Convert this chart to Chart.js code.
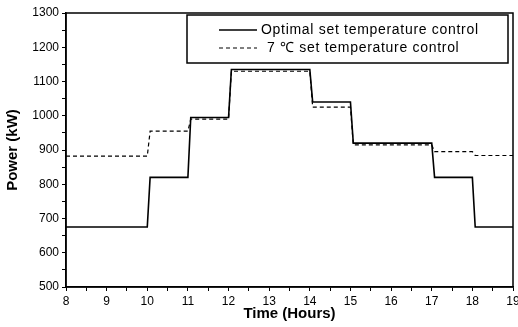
<!DOCTYPE html>
<html>
<head>
<meta charset="utf-8">
<script src="https://cdn.jsdelivr.net/npm/chart.js@4.4.1/dist/chart.umd.min.js"></script>
<style>
  html, body { margin: 0; padding: 0; background: #fff; }
  #wrap { width: 518px; height: 327px; }
</style>
</head>
<body>
<div id="wrap"><canvas id="c" width="518" height="327"></canvas></div>
<script>
// Hour boundaries of each constant-power period
const hourStarts = [8, 10, 11, 12, 14, 15, 17, 18];
const hourEnds   = [10, 11, 12, 14, 15, 17, 18, 19];
// Power (kW) in each period
const optimalPower  = [675, 820, 995, 1135, 1040, 920, 820, 675];
const sevenDegPower = [882, 955, 990, 1130, 1025, 915, 895, 884];
const seriesNames = ['Optimal set temperature control', '7 \u2103 set temperature control'];
const xTicks = [8, 9, 10, 11, 12, 13, 14, 15, 16, 17, 18, 19];
const yTicks = [500, 600, 700, 800, 900, 1000, 1100, 1200, 1300];

// build step points (short ramp after each hour boundary)
function stepPoints(levels, ramp) {
  const pts = [];
  for (let i = 0; i < levels.length; i++) {
    const s = i === 0 ? hourStarts[i] : hourStarts[i] + ramp;
    pts.push({ x: s, y: levels[i] });
    pts.push({ x: hourEnds[i], y: levels[i] });
  }
  return pts;
}

const legendPlugin = {
  id: 'boxLegend',
  afterDraw(chart) {
    const ctx = chart.ctx;
    const a = chart.chartArea;
    ctx.save();
    // frame around plot area
    ctx.strokeStyle = '#000';
    ctx.lineWidth = 1.5;
    ctx.strokeRect(a.left, a.top, a.right - a.left, a.bottom - a.top);
    // legend box
    const bx = 187, by = 15, bw = 321, bh = 48;
    ctx.fillStyle = '#fff';
    ctx.fillRect(bx, by, bw, bh);
    ctx.lineWidth = 1.5;
    ctx.strokeRect(bx, by, bw, bh);
    const rows = [30, 48];
    chart.data.datasets.forEach((ds, i) => {
      ctx.beginPath();
      ctx.setLineDash(ds.borderDash || []);
      ctx.lineWidth = ds.borderWidth;
      ctx.moveTo(219, rows[i]);
      ctx.lineTo(257, rows[i]);
      ctx.stroke();
      ctx.setLineDash([]);
      ctx.fillStyle = '#000';
      ctx.font = '14px "Liberation Sans", Arial, sans-serif';
      try { ctx.letterSpacing = '0.7px'; } catch (e) {}
      ctx.textBaseline = 'middle';
      ctx.textAlign = 'left';
      ctx.fillText(ds.label, i === 0 ? 261 : 267, rows[i]);
    });
    ctx.restore();
  }
};

new Chart(document.getElementById('c'), {
  type: 'line',
  data: {
    datasets: [
      {
        label: seriesNames[0],
        data: stepPoints(optimalPower, 0.07),
        borderColor: '#000',
        borderWidth: 1.6,
        pointRadius: 0,
        fill: false,
        tension: 0
      },
      {
        label: seriesNames[1],
        data: stepPoints(sevenDegPower, 0.07),
        borderColor: '#000',
        borderWidth: 1.2,
        borderDash: [4, 3],
        pointRadius: 0,
        fill: false,
        tension: 0
      }
    ]
  },
  plugins: [legendPlugin],
  options: {
    responsive: false,
    animation: false,
    devicePixelRatio: 1,
    layout: { padding: { top: 13, right: 5, left: 0, bottom: 0 } },
    plugins: { legend: { display: false }, tooltip: { enabled: false } },
    scales: {
      x: {
        type: 'linear',
        min: 8, max: 19,
        afterFit(s) { s.height = 40; s.paddingLeft = 0; s.paddingRight = 0; },
        afterBuildTicks(s) {
          const t = [];
          for (let i = 0; i < xTicks.length; i++) {
            t.push({ value: xTicks[i] });
            if (i < xTicks.length - 1) t.push({ value: xTicks[i] + 0.5 });
          }
          s.ticks = t;
        },
        ticks: {
          autoSkip: false,
          maxRotation: 0,
          color: '#000',
          padding: 3,
          font: { family: '"Liberation Sans", Arial, sans-serif', size: 12 },
          callback: v => (xTicks.includes(v) ? String(v) : '')
        },
        grid: { display: true, drawOnChartArea: false, drawTicks: true, tickLength: 4, color: '#000', lineWidth: 1 },
        border: { display: true, color: '#000', width: 1.5 },
        title: {
          display: true,
          text: 'Time (Hours)',
          color: '#000',
          padding: { top: 1, bottom: 4 },
          font: { family: '"Liberation Sans", Arial, sans-serif', size: 15, weight: 'bold' }
        }
      },
      y: {
        type: 'linear',
        min: 500, max: 1300,
        afterFit(s) { s.width = 66; s.paddingTop = 0; s.paddingBottom = 0; },
        afterBuildTicks(s) {
          const t = [];
          for (let i = 0; i < yTicks.length; i++) {
            t.push({ value: yTicks[i] });
            if (i < yTicks.length - 1) t.push({ value: yTicks[i] + 50 });
          }
          s.ticks = t;
        },
        ticks: {
          autoSkip: false,
          color: '#000',
          padding: 3,
          font: { family: '"Liberation Sans", Arial, sans-serif', size: 12 },
          callback: v => (yTicks.includes(v) ? String(v) : '')
        },
        grid: { display: true, drawOnChartArea: false, drawTicks: true, tickLength: 4, color: '#000', lineWidth: 1 },
        border: { display: true, color: '#000', width: 1.5 },
        title: {
          display: true,
          text: 'Power (kW)',
          color: '#000',
          padding: { top: 4, bottom: 4 },
          font: { family: '"Liberation Sans", Arial, sans-serif', size: 15, weight: 'bold' }
        }
      }
    }
  }
});
</script>
</body>
</html>
